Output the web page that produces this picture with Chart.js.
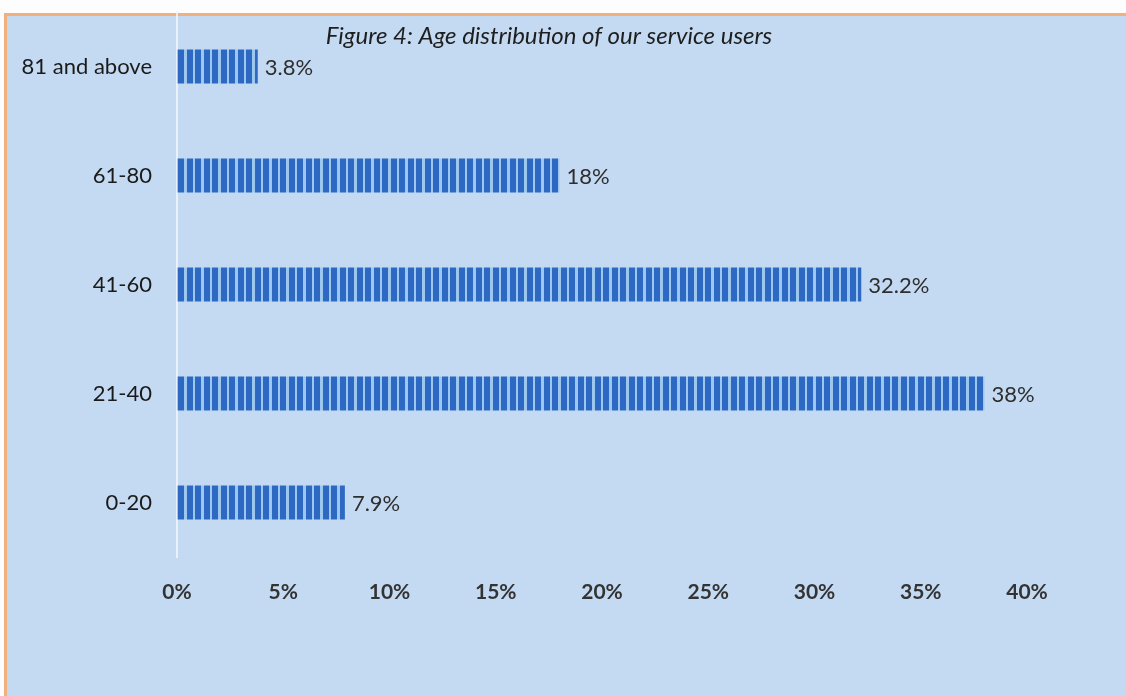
<!DOCTYPE html>
<html>
<head>
<meta charset="utf-8">
<title>Figure 4: Age distribution of our service users</title>
<script src="https://cdn.jsdelivr.net/npm/chart.js@4.4.1/dist/chart.umd.min.js"></script>
<style>
  html, body { margin: 0; padding: 0; background: #fdfdfd; overflow: hidden; }
  #frame {
    position: absolute; left: 4px; top: 13px; width: 1140px; height: 700px;
    background: #c4daf2; border-left: 3px solid #f2b07c; border-top: 3px solid #f2b07c;
  }
  #wrap { position: absolute; left: 0; top: 0; width: 1126px; height: 696px; }
</style>
</head>
<body>
<div id="frame"></div>
<div id="wrap"><canvas id="ageChart" width="1126" height="696"></canvas></div>
<script>
'use strict';

/* ── Data ──────────────────────────────────────────────────────────────── */
const ageGroups = ['0-20', '21-40', '41-60', '61-80', '81 and above'];
const userShare = [7.9, 38, 32.2, 18, 3.8];
const xTicks = [0, 5, 10, 15, 20, 25, 30, 35, 40];
const chartTitle = 'Figure 4: Age distribution of our service users';

/* striped fill like the scanned bars */
function stripePattern() {
  const c = document.createElement('canvas');
  c.width = 17; c.height = 4;
  const g = c.getContext('2d');
  g.fillStyle = '#9cc8f0';
  g.fillRect(0, 0, 17, 4);
  g.fillStyle = '#2d69c2';
  g.fillRect(0, 0, 6, 4);
  g.fillRect(8, 0, 6, 4);
  return g.createPattern(c, 'repeat');
}

const titlePlugin = {
  id: 'figTitle',
  afterDraw(chart) {
    const ctx = chart.ctx;
    ctx.save();
    ctx.font = 'italic 24px Lato';
    ctx.fillStyle = '#1e1e1e';
    ctx.textAlign = 'center';
    ctx.textBaseline = 'alphabetic';
    ctx.fillText(chartTitle, 549, 44);
    ctx.restore();
  }
};

const valueLabels = {
  id: 'valueLabels',
  afterDatasetsDraw(chart) {
    const ctx = chart.ctx;
    const meta = chart.getDatasetMeta(0);
    ctx.save();
    ctx.font = '22px Lato';
    ctx.fillStyle = '#2e2e2e';
    ctx.textAlign = 'left';
    ctx.textBaseline = 'middle';
    meta.data.forEach((bar, i) => {
      ctx.fillText(userShare[i] + '%', bar.x + 7, bar.y + 1);
    });
    ctx.restore();
  }
};

const ctx = document.getElementById('ageChart');
new Chart(ctx, {
  type: 'bar',
  data: {
    labels: ageGroups,
    datasets: [{
      data: userShare,
      backgroundColor: stripePattern(),
      borderWidth: 0,
      barPercentage: 0.31,
      categoryPercentage: 1
    }]
  },
  options: {
    indexAxis: 'y',
    responsive: false,
    animation: false,
    layout: { padding: { top: 12, right: 99, bottom: 59, left: 0 } },
    plugins: { legend: { display: false }, tooltip: { enabled: false }, title: { display: false } },
    scales: {
      x: {
        min: 0, max: 40,
        afterBuildTicks: s => { s.ticks = xTicks.map(v => ({ value: v })); },
        afterFit: s => { s.height = 80; },
        grid: { display: false, drawTicks: false },
        border: { display: false },
        ticks: { padding: 23, color: '#333', font: { family: 'Lato', size: 21, weight: 'bold' }, callback: v => v + '%' }
      },
      y: {
        reverse: true,
        afterFit: s => { s.width = 177; s.paddingTop = 0; s.paddingBottom = 0; },
        grid: { display: false, drawTicks: false },
        border: { display: true, color: 'rgba(240,246,252,0.85)', width: 2 },
        ticks: { padding: 25, color: '#1a1a1a', font: { family: 'Lato', size: 22 } }
      }
    }
  },
  plugins: [titlePlugin, valueLabels]
});
</script>
</body>
</html>
